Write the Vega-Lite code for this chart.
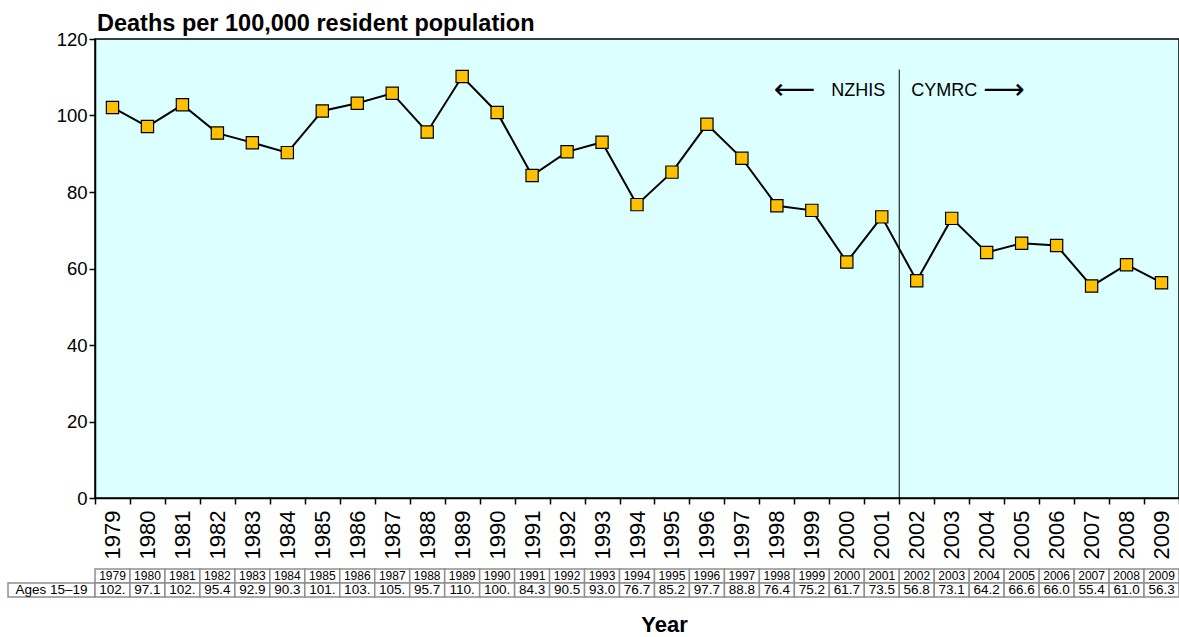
{
  "$schema": "https://vega.github.io/schema/vega-lite/v6.json",
  "padding": {"left": 7, "top": 10, "right": 0, "bottom": 0},
  "background": "white",
  "config": {
    "font": "Liberation Sans",
    "view": {"stroke": null},
    "axis": {"labelColor": "black", "titleColor": "black", "tickColor": "black", "domainColor": "black"}
  },
  "datasets": {
    "rates": [
      {"year": 1979, "rate": 102.1, "shown": "102."},
      {"year": 1980, "rate": 97.1, "shown": "97.1"},
      {"year": 1981, "rate": 102.8, "shown": "102."},
      {"year": 1982, "rate": 95.4, "shown": "95.4"},
      {"year": 1983, "rate": 92.9, "shown": "92.9"},
      {"year": 1984, "rate": 90.3, "shown": "90.3"},
      {"year": 1985, "rate": 101.2, "shown": "101."},
      {"year": 1986, "rate": 103.2, "shown": "103."},
      {"year": 1987, "rate": 105.8, "shown": "105."},
      {"year": 1988, "rate": 95.7, "shown": "95.7"},
      {"year": 1989, "rate": 110.2, "shown": "110."},
      {"year": 1990, "rate": 100.8, "shown": "100."},
      {"year": 1991, "rate": 84.3, "shown": "84.3"},
      {"year": 1992, "rate": 90.5, "shown": "90.5"},
      {"year": 1993, "rate": 93.0, "shown": "93.0"},
      {"year": 1994, "rate": 76.7, "shown": "76.7"},
      {"year": 1995, "rate": 85.2, "shown": "85.2"},
      {"year": 1996, "rate": 97.7, "shown": "97.7"},
      {"year": 1997, "rate": 88.8, "shown": "88.8"},
      {"year": 1998, "rate": 76.4, "shown": "76.4"},
      {"year": 1999, "rate": 75.2, "shown": "75.2"},
      {"year": 2000, "rate": 61.7, "shown": "61.7"},
      {"year": 2001, "rate": 73.5, "shown": "73.5"},
      {"year": 2002, "rate": 56.8, "shown": "56.8"},
      {"year": 2003, "rate": 73.1, "shown": "73.1"},
      {"year": 2004, "rate": 64.2, "shown": "64.2"},
      {"year": 2005, "rate": 66.6, "shown": "66.6"},
      {"year": 2006, "rate": 66.0, "shown": "66.0"},
      {"year": 2007, "rate": 55.4, "shown": "55.4"},
      {"year": 2008, "rate": 61.0, "shown": "61.0"},
      {"year": 2009, "rate": 56.3, "shown": "56.3"}
    ],
    "notes": [
      {"year": 2001, "label": "NZHIS", "kind": "leftText"},
      {"year": 2002, "label": "CYMRC", "kind": "rightText"},
      {"year": 2001, "label": "⟵", "kind": "leftArrow"},
      {"year": 2002, "label": "⟶", "kind": "rightArrow"}
    ]
  },
  "columns": 2,
  "bounds": "flush",
  "spacing": {"row": 71, "column": 0},
  "concat": [
    {
      "width": 87,
      "height": 459,
      "data": {"values": [{"t": ""}]},
      "mark": {"type": "text"},
      "encoding": {"text": {"field": "t"}}
    },
    {
      "width": 1084,
      "height": 459,
      "view": {"fill": "#dcffff", "stroke": "black", "strokeWidth": 1.5},
      "title": {"text": "Deaths per 100,000 resident population", "anchor": "start", "frame": "group", "fontSize": 23.5, "fontWeight": "bold", "offset": -5, "dx": 2},
      "data": {"name": "rates"},
      "encoding": {
        "x": {
          "field": "year", "type": "ordinal",
          "scale": {"paddingInner": 0, "paddingOuter": 0},
          "axis": {"title": null, "labelAngle": 270, "labelFontSize": 22, "labelPadding": 6, "tickBand": "extent", "tickSize": 6, "tickWidth": 1.5, "domainWidth": 1.5, "labelBaseline": "middle", "labelAlign": "right"}
        }
      },
      "layer": [
        {
          "mark": {"type": "rule", "color": "black", "strokeWidth": 1},
          "transform": [{"filter": "datum.year == 2001"}],
          "encoding": {
            "x": {"field": "year", "type": "ordinal", "bandPosition": 1},
            "y": {"datum": 0, "type": "quantitative"},
            "y2": {"datum": 112}
          }
        },
        {
          "mark": {"type": "line", "color": "black", "strokeWidth": 2},
          "encoding": {
            "y": {
              "field": "rate", "type": "quantitative",
              "scale": {"domain": [0, 120], "nice": false},
              "axis": {"title": null, "values": [0, 20, 40, 60, 80, 100, 120], "labelFontSize": 18.5, "labelPadding": 2, "tickSize": 6, "tickWidth": 1.5, "domainWidth": 1.5, "gridColor": "#a6cccc", "gridWidth": 1.5}
            }
          }
        },
        {
          "mark": {"type": "point", "shape": "square", "filled": true, "fill": "#ffc000", "stroke": "black", "strokeWidth": 1.2, "size": 150, "opacity": 1},
          "encoding": {"y": {"field": "rate", "type": "quantitative"}}
        },
        {
          "data": {"name": "notes"},
          "transform": [{"filter": "datum.kind == 'leftText'"}],
          "mark": {"type": "text", "align": "right", "baseline": "middle", "dx": -14, "fontSize": 18, "color": "black"},
          "encoding": {
            "x": {"field": "year", "type": "ordinal", "bandPosition": 1},
            "y": {"datum": 106.5, "type": "quantitative"},
            "text": {"field": "label"}
          }
        },
        {
          "data": {"name": "notes"},
          "transform": [{"filter": "datum.kind == 'rightText'"}],
          "mark": {"type": "text", "align": "left", "baseline": "middle", "dx": 12, "fontSize": 18, "color": "black"},
          "encoding": {
            "x": {"field": "year", "type": "ordinal", "bandPosition": 0},
            "y": {"datum": 106.5, "type": "quantitative"},
            "text": {"field": "label"}
          }
        },
        {
          "data": {"name": "notes"},
          "transform": [{"filter": "datum.kind == 'leftArrow'"}],
          "mark": {"type": "text", "align": "right", "baseline": "middle", "dx": -84, "dy": -1, "fontSize": 29, "font": "DejaVu Sans", "color": "black"},
          "encoding": {
            "x": {"field": "year", "type": "ordinal", "bandPosition": 1},
            "y": {"datum": 106.5, "type": "quantitative"},
            "text": {"field": "label"}
          }
        },
        {
          "data": {"name": "notes"},
          "transform": [{"filter": "datum.kind == 'rightArrow'"}],
          "mark": {"type": "text", "align": "left", "baseline": "middle", "dx": 84, "dy": -1, "fontSize": 29, "font": "DejaVu Sans", "color": "black"},
          "encoding": {
            "x": {"field": "year", "type": "ordinal", "bandPosition": 0},
            "y": {"datum": 106.5, "type": "quantitative"},
            "text": {"field": "label"}
          }
        }
      ]
    },
    {
      "width": 87,
      "height": 28,
      "data": {"values": [{"label": "Ages 15–19"}]},
      "encoding": {
        "x": {"datum": "a", "type": "nominal", "scale": {"paddingInner": 0, "paddingOuter": 0}, "axis": null},
        "y": {"datum": "v", "type": "nominal", "scale": {"domain": ["h", "v"], "paddingInner": 0, "paddingOuter": 0}, "axis": null}
      },
      "layer": [
        {"mark": {"type": "rect", "fill": "white", "stroke": "#8f8f8f", "strokeWidth": 1.5}},
        {"mark": {"type": "text", "fontSize": 13.5, "color": "black", "baseline": "middle"}, "encoding": {"text": {"field": "label"}}}
      ]
    },
    {
      "width": 1084,
      "height": 28,
      "data": {"name": "rates"},
      "encoding": {
        "x": {
          "field": "year", "type": "ordinal",
          "scale": {"paddingInner": 0, "paddingOuter": 0},
          "axis": {"title": "Year", "labels": false, "ticks": false, "domain": false, "titleFontSize": 22, "titleFontWeight": "bold", "titlePadding": 17, "titleX": 569}
        }
      },
      "layer": [
        {
          "mark": {"type": "rect", "fill": "white", "stroke": "#8f8f8f", "strokeWidth": 1.5},
          "encoding": {"y": {"datum": "h", "type": "nominal", "scale": {"domain": ["h", "v"], "paddingInner": 0, "paddingOuter": 0}, "axis": null}}
        },
        {
          "mark": {"type": "rect", "fill": "white", "stroke": "#8f8f8f", "strokeWidth": 1.5},
          "encoding": {"y": {"datum": "v", "type": "nominal"}}
        },
        {
          "mark": {"type": "text", "fontSize": 12, "color": "black", "baseline": "middle"},
          "encoding": {"y": {"datum": "h", "type": "nominal"}, "text": {"field": "year", "type": "ordinal"}}
        },
        {
          "mark": {"type": "text", "fontSize": 13.5, "color": "black", "baseline": "middle"},
          "encoding": {"y": {"datum": "v", "type": "nominal"}, "text": {"field": "shown"}}
        }
      ]
    }
  ]
}
